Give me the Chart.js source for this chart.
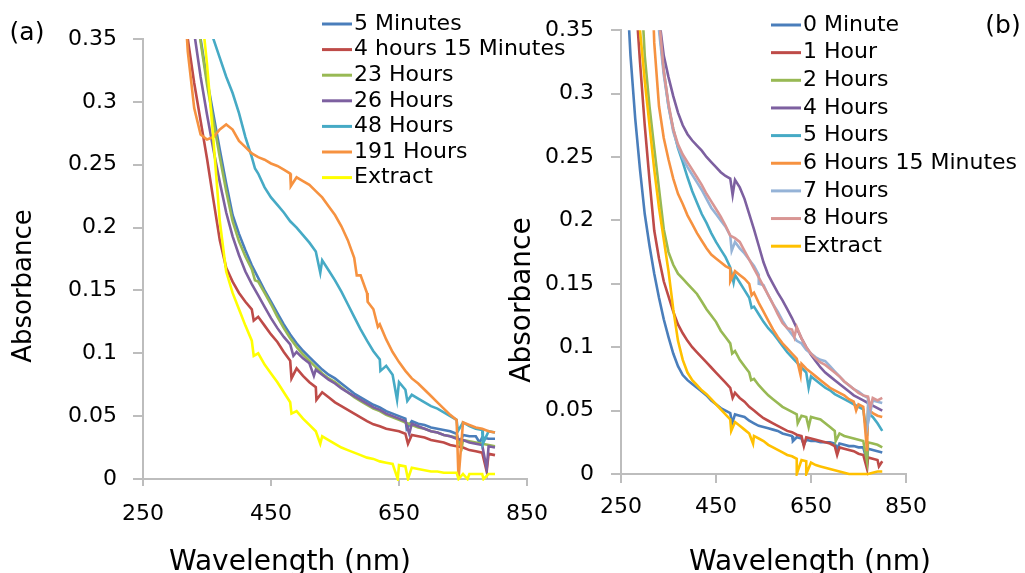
<!DOCTYPE html>
<html>
<head>
<meta charset="utf-8">
<title>Absorbance spectra</title>
<script src="https://cdn.jsdelivr.net/npm/chart.js@4.4.1/dist/chart.umd.min.js"></script>
<style>
  html, body { margin: 0; padding: 0; background: #fff; }
  #wrap { position: relative; width: 1025px; height: 573px; overflow: hidden; }
  #wrap canvas { position: absolute; left: 0; top: 0; }
</style>
</head>
<body>
<div id="wrap">
  <canvas id="chartA" width="1025" height="573"></canvas>
  <canvas id="chartB" width="1025" height="573"></canvas>
</div>
<script>
// ---- panel (a) data: wavelength grid (nm) and absorbance per series ----
const wavelengthsA = [
  300, 310, 320, 330, 340, 350, 360, 370, 380, 390,
  400, 410, 420, 430, 440, 450, 460, 470, 480, 490,
  500, 510, 520, 530, 540, 550, 560, 570, 580, 590,
  600, 610, 620, 630, 640, 650, 660, 670, 680, 690,
  700, 710, 720, 730, 740, 750, 760, 770, 780, 790,
  800
];
const labelsA = ['5 Minutes', '4 hours 15 Minutes', '23 Hours', '26 Hours', '48 Hours', '191 Hours', 'Extract'];
const colorsA = ['#4a7ebb', '#be4b48', '#98b954', '#7d60a0', '#46aac5', '#f69240', '#ffff00'];

const min5 = [
  null, 0.52, 0.45, 0.395, 0.35, 0.318, 0.29, 0.262, 0.235, 0.21,
  0.195, 0.182, 0.170, 0.160, 0.150, 0.141, 0.132, 0.123, 0.115, 0.108,
  0.102, 0.097, 0.092, 0.087, 0.083, 0.080, 0.076, 0.072, 0.068, 0.065,
  0.062, 0.059, 0.057, 0.054, 0.052, 0.050, 0.048, 0.046, 0.044, 0.043,
  0.041, 0.040, 0.039, 0.038, 0.036, 0.035, 0.034, 0.034, 0.033, 0.032,
  0.032
];
const h4m15 = [
  0.52, 0.43, 0.35, 0.315, 0.285, 0.255, 0.222, 0.19, 0.168, 0.157,
  0.148, 0.141, 0.135, 0.129, 0.122, 0.115, 0.109, 0.101, 0.094, 0.088,
  0.082, 0.077, 0.073, 0.069, 0.065, 0.061, 0.058, 0.055, 0.052, 0.049,
  0.046, 0.0435, 0.042, 0.040, 0.039, 0.038, 0.036, 0.035, 0.034, 0.033,
  0.031, 0.030, 0.029, 0.027, 0.026, 0.025, 0.023, 0.022, 0.021, 0.020,
  0.019
];
const h23 = [
  null, 0.50, 0.44, 0.39, 0.348, 0.314, 0.285, 0.256, 0.229, 0.205,
  0.189, 0.177, 0.167, 0.157, 0.148, 0.139, 0.129, 0.120, 0.112, 0.105,
  0.099, 0.094, 0.089, 0.084, 0.080, 0.077, 0.073, 0.069, 0.065, 0.062,
  0.059, 0.056, 0.054, 0.051, 0.049, 0.047, 0.045, 0.043, 0.041, 0.040,
  0.038, 0.037, 0.035, 0.034, 0.033, 0.031, 0.030, 0.029, 0.028, 0.027,
  0.026
];
const h26 = [
  0.55, 0.47, 0.40, 0.355, 0.32, 0.29, 0.262, 0.236, 0.212, 0.193,
  0.178, 0.165, 0.155, 0.146, 0.137, 0.128, 0.120, 0.113, 0.107, 0.101,
  0.096, 0.092, 0.087, 0.083, 0.079, 0.076, 0.072, 0.069, 0.066, 0.063,
  0.060, 0.057, 0.055, 0.052, 0.050, 0.048, 0.046, 0.044, 0.042, 0.040,
  0.038, 0.037, 0.035, 0.034, 0.032, 0.031, 0.029, 0.028, 0.027, 0.026,
  0.025
];
const h48 = [
  null, null, null, null, null, 0.37, 0.35, 0.335, 0.32, 0.307,
  0.291, 0.272, 0.256, 0.243, 0.232, 0.224, 0.218, 0.212, 0.205, 0.200,
  0.194, 0.188, 0.181, 0.174, 0.166, 0.158, 0.149, 0.139, 0.129, 0.119,
  0.110, 0.1016, 0.095, 0.090, 0.083, 0.077, 0.071, 0.067, 0.064, 0.061,
  0.058, 0.056, 0.053, 0.050, 0.047, 0.045, 0.042, 0.040, 0.039, 0.038,
  0.037
];
const h191 = [
  null, 0.42, 0.34, 0.295, 0.274, 0.270, 0.272, 0.278, 0.282, 0.278,
  0.269, 0.264, 0.259, 0.256, 0.254, 0.251, 0.249, 0.246, 0.243, 0.240,
  0.237, 0.234, 0.229, 0.224, 0.217, 0.210, 0.201, 0.190, 0.176, 0.162,
  0.148, 0.135, 0.123, 0.111, 0.101, 0.093, 0.086, 0.080, 0.076, 0.071,
  0.066, 0.061, 0.056, 0.051, 0.047, 0.045, 0.043, 0.041, 0.040, 0.038,
  0.037
];
const extractA = [
  null, null, null, 0.45, 0.38, 0.33, 0.27, 0.205, 0.165, 0.148,
  0.135, 0.122, 0.110, 0.100, 0.091, 0.084, 0.077, 0.069, 0.061, 0.054,
  0.048, 0.043, 0.038, 0.034, 0.031, 0.028, 0.025, 0.023, 0.021, 0.019,
  0.017, 0.016, 0.014, 0.013, 0.012, 0.011, 0.010, 0.009, 0.008, 0.007,
  0.006, 0.006, 0.005, 0.005, 0.005, 0.004, 0.004, 0.004, 0.004, 0.004,
  0.004
];
// narrow dips in the recorded spectra, [wavelength, absorbance]
const dipsA = [
  [[662, 0.040], [745, 0.028], [776, 0.029]],
  [[423, 0.126], [482, 0.080], [521, 0.063], [664, 0.028], [787, 0.006]],
  [[425, 0.158], [748, 0.025]],
  [[485, 0.098], [517, 0.082], [666, 0.036], [787, 0.008]],
  [[425, 0.247], [527, 0.164], [621, 0.086], [647, 0.063], [663, 0.062], [742, 0.038], [781, 0.028]],
  [[481, 0.233], [584, 0.162], [601, 0.141], [617, 0.121], [743, 0.0]],
  [[423, 0.098], [482, 0.052], [527, 0.028], [648, 0.0], [664, 0.0], [743, 0.0], [757, 0.0], [782, 0.0]]
];

// ---- panel (b) data ----
const wavelengthsB = [
  260, 270, 280, 290, 300, 310, 320, 330, 340, 350,
  360, 370, 380, 390, 400, 410, 420, 430, 440, 450,
  460, 470, 480, 490, 500, 510, 520, 530, 540, 550,
  560, 570, 580, 590, 600, 610, 620, 630, 640, 650,
  660, 670, 680, 690, 700, 710, 720, 730, 740, 750,
  760, 770, 780, 790, 800
];
const labelsB = ['0 Minute', '1 Hour', '2 Hours', '4 Hours', '5 Hours', '6 Hours 15 Minutes', '7 Hours', '8 Hours', 'Extract'];
const colorsB = ['#4a7ebb', '#be4b48', '#98b954', '#7d60a0', '#46aac5', '#f69240', '#95b3d7', '#d99694', '#ffc000'];

const min0 = [
  0.40, 0.33, 0.28, 0.24, 0.205, 0.18, 0.158, 0.139, 0.122, 0.108,
  0.095, 0.085, 0.078, 0.074, 0.071, 0.068, 0.065, 0.062, 0.058, 0.055,
  0.052, 0.050, 0.048, 0.047, 0.046, 0.045, 0.042, 0.040, 0.038, 0.037,
  0.036, 0.035, 0.034, 0.032, 0.031, 0.030, 0.029, 0.028, 0.027, 0.026,
  0.026, 0.025, 0.025, 0.025, 0.024, 0.024, 0.023, 0.022, 0.022, 0.021,
  0.021, 0.020, 0.019, 0.018, 0.017
];
const h1 = [
  null, 0.52, 0.38, 0.325, 0.275, 0.232, 0.192, 0.17, 0.152, 0.140,
  0.128, 0.118, 0.111, 0.105, 0.100, 0.096, 0.092, 0.088, 0.084, 0.080,
  0.076, 0.072, 0.068, 0.064, 0.060, 0.057, 0.053, 0.050, 0.047, 0.044,
  0.042, 0.040, 0.038, 0.036, 0.034, 0.033, 0.031, 0.030, 0.029, 0.028,
  0.027, 0.026, 0.025, 0.024, 0.022, 0.021, 0.020, 0.019, 0.018, 0.016,
  0.015, 0.013, 0.012, 0.011, 0.010
];
const h2 = [
  null, null, 0.55, 0.40, 0.33, 0.29, 0.257, 0.225, 0.193, 0.175,
  0.165, 0.158, 0.154, 0.150, 0.146, 0.142, 0.136, 0.130, 0.125, 0.120,
  0.113, 0.108, 0.103, 0.097, 0.090, 0.085, 0.080, 0.075, 0.070, 0.066,
  0.062, 0.059, 0.056, 0.053, 0.051, 0.049, 0.047, 0.046, 0.045, 0.045,
  0.044, 0.043, 0.040, 0.037, 0.034, 0.032, 0.030, 0.029, 0.028, 0.027,
  0.026, 0.025, 0.024, 0.023, 0.021
];
const h4 = [
  null, null, null, null, null, null, 0.42, 0.36, 0.33, 0.313,
  0.298, 0.285, 0.275, 0.268, 0.263, 0.259, 0.255, 0.250, 0.246, 0.242,
  0.238, 0.235, 0.233, 0.232, 0.226, 0.217, 0.205, 0.193, 0.180, 0.167,
  0.157, 0.150, 0.143, 0.137, 0.130, 0.123, 0.115, 0.107, 0.100, 0.094,
  0.089, 0.084, 0.080, 0.077, 0.074, 0.071, 0.068, 0.065, 0.062, 0.060,
  0.058, 0.056, 0.054, 0.052, 0.050
];
const h5 = [
  null, null, null, null, null, null, 0.40, 0.355, 0.318, 0.29,
  0.272, 0.257, 0.246, 0.234, 0.223, 0.214, 0.205, 0.198, 0.190, 0.183,
  0.177, 0.171, 0.163, 0.157, 0.151, 0.145, 0.139, 0.132, 0.126, 0.120,
  0.115, 0.111, 0.106, 0.101, 0.096, 0.092, 0.088, 0.084, 0.080, 0.077,
  0.074, 0.071, 0.068, 0.066, 0.063, 0.061, 0.059, 0.057, 0.055, 0.053,
  0.051, 0.048, 0.045, 0.040, 0.034
];
const h6m15 = [
  null, null, null, null, null, 0.45, 0.34, 0.29, 0.265, 0.248,
  0.233, 0.221, 0.213, 0.204, 0.197, 0.190, 0.184, 0.178, 0.173, 0.170,
  0.167, 0.164, 0.162, 0.160, 0.157, 0.154, 0.150, 0.143, 0.135, 0.128,
  0.121, 0.114, 0.108, 0.103, 0.099, 0.095, 0.091, 0.087, 0.083, 0.080,
  0.077, 0.074, 0.071, 0.068, 0.066, 0.064, 0.062, 0.059, 0.057, 0.055,
  0.053, 0.051, 0.048, 0.046, 0.045
];
const h7 = [
  null, null, null, null, null, null, 0.42, 0.35, 0.315, 0.29,
  0.270, 0.258, 0.249, 0.242, 0.236, 0.230, 0.224, 0.217, 0.210, 0.205,
  0.200, 0.195, 0.188, 0.183, 0.178, 0.174, 0.169, 0.164, 0.157, 0.149,
  0.141, 0.134, 0.128, 0.121, 0.115, 0.110, 0.105, 0.103, 0.098, 0.095,
  0.092, 0.090, 0.089, 0.085, 0.081, 0.077, 0.073, 0.070, 0.067, 0.065,
  0.062, 0.060, 0.058, 0.057, 0.056
];
const h8 = [
  null, null, null, null, null, null, 0.43, 0.36, 0.318, 0.292,
  0.272, 0.260, 0.252, 0.246, 0.240, 0.234, 0.228, 0.221, 0.215, 0.209,
  0.203, 0.196, 0.188, 0.186, 0.183, 0.176, 0.169, 0.162, 0.155, 0.148,
  0.141, 0.134, 0.126, 0.119, 0.115, 0.114, 0.116, 0.107, 0.100, 0.095,
  0.091, 0.088, 0.086, 0.083, 0.080, 0.077, 0.073, 0.070, 0.067, 0.064,
  0.062, 0.061, 0.060, 0.058, 0.060
];
const extractB = [
  null, null, 0.45, 0.35, 0.31, 0.275, 0.24, 0.21, 0.185, 0.16,
  0.13, 0.105, 0.09, 0.080, 0.074, 0.070, 0.066, 0.063, 0.059, 0.055,
  0.051, 0.047, 0.043, 0.041, 0.038, 0.035, 0.032, 0.030, 0.028, 0.026,
  0.023, 0.021, 0.019, 0.017, 0.015, 0.014, 0.012, 0.011, 0.010, 0.009,
  0.007, 0.006, 0.005, 0.004, 0.003, 0.002, 0.001, 0.0, 0.0, 0.0,
  0.0, 0.0, 0.001, 0.002, 0.002
];
const dipsB = [
  [[484, 0.040], [612, 0.026], [635, 0.023], [705, 0.020], [768, 0.010]],
  [[485, 0.060], [635, 0.022], [705, 0.015], [768, 0.004], [793, 0.006]],
  [[484, 0.095], [524, 0.074], [622, 0.040], [645, 0.037], [702, 0.026], [768, 0.010]],
  [[485, 0.220]],
  [[487, 0.151], [525, 0.131], [645, 0.068], [768, 0.030]],
  [[480, 0.152], [525, 0.141], [628, 0.078], [745, 0.050], [768, 0.018]],
  [[483, 0.176], [540, 0.150], [770, 0.040]],
  [[615, 0.108], [775, 0.052]],
  [[482, 0.034], [528, 0.024], [620, 0.0], [640, 0.0]]
];

const FONT = '"DejaVu Sans", sans-serif';
const AXIS_GRAY = '#bdbdbd';
Chart.defaults.font.family = FONT;
Chart.defaults.color = '#000';

function toPoints(wl, vals, dips) {
  const pts = [];
  wl.forEach((x, i) => { if (vals[i] !== null) pts.push({ x, y: vals[i] }); });
  dips.forEach(([x, y]) => pts.push({ x, y }));
  return pts.sort((a, b) => a.x - b.x);
}

function makeDatasets(wl, series, labels, colors, dips) {
  const n = series.length;
  return series.map((vals, i) => ({
    label: labels[i],
    data: toPoints(wl, vals, dips[i]),
    borderColor: colors[i],
    backgroundColor: colors[i],
    borderWidth: 2.6,
    pointRadius: 0,
    tension: 0,
    fill: false,
    clip: { left: 0, top: 0, right: 0, bottom: 2 },
    order: n - i   // later series painted on top
  }));
}

// legend, axis titles and panel tag drawn at fixed spots
const panelText = {
  id: 'panelText',
  afterDraw(chart, args, o) {
    const ctx = chart.ctx;
    ctx.save();
    ctx.fillStyle = '#000';
    ctx.textAlign = 'left';
    ctx.textBaseline = 'middle';
    ctx.font = o.legendSize + 'px ' + FONT;
    chart.data.datasets.forEach((ds, i) => {
      const y = o.legendY + i * o.legendRow;
      ctx.strokeStyle = ds.borderColor;
      ctx.lineWidth = 3;
      ctx.beginPath();
      ctx.moveTo(o.legendX, y);
      ctx.lineTo(o.legendX + 30, y);
      ctx.stroke();
      ctx.fillText(ds.label, o.legendX + 32, y);
    });

    ctx.font = o.tagSize + 'px ' + FONT;
    ctx.textAlign = 'center';
    ctx.fillText(o.tag, o.tagX, o.tagY);

    ctx.font = o.xTitleSize + 'px ' + FONT;
    ctx.textBaseline = 'alphabetic';
    ctx.fillText('Wavelength (nm)', o.xTitleX, o.xTitleY);

    ctx.translate(o.yTitleX, o.yTitleY);
    ctx.rotate(-Math.PI / 2);
    ctx.font = o.yTitleSize + 'px ' + FONT;
    ctx.textBaseline = 'middle';
    ctx.fillText('Absorbance', 0, 0);
    ctx.restore();
  }
};

function buildChart(id, datasets, p) {
  const tickFont = { size: 22, family: FONT };
  return new Chart(document.getElementById(id), {
    type: 'line',
    data: { datasets },
    plugins: [panelText],
    options: {
      responsive: false,
      animation: false,
      events: [],
      layout: { padding: { left: p.padLeft, top: p.top, right: 1025 - p.right, bottom: 0 } },
      scales: {
        x: {
          type: 'linear', min: 250, max: 850,
          ticks: { stepSize: 200, padding: p.xPad, font: tickFont, color: '#000', maxRotation: 0 },
          grid: { drawOnChartArea: false, tickLength: p.xTick, color: AXIS_GRAY, lineWidth: 2 },
          border: { color: AXIS_GRAY, width: 2 },
          afterFit: s => { s.height = 573 - p.bottom; }
        },
        y: {
          type: 'linear', min: 0, max: 0.35,
          ticks: {
            stepSize: 0.05, padding: p.yPad, font: tickFont, color: '#000',
            callback: v => String(+v.toFixed(2))
          },
          grid: { drawOnChartArea: false, tickLength: p.yTick, color: AXIS_GRAY, lineWidth: 2 },
          border: { color: AXIS_GRAY, width: 2 },
          afterFit: s => { s.width = p.left - p.padLeft; }
        }
      },
      plugins: {
        legend: { display: false },
        tooltip: { enabled: false },
        panelText: p.text
      }
    }
  });
}

buildChart('chartA',
  makeDatasets(wavelengthsA, [min5, h4m15, h23, h26, h48, h191, extractA], labelsA, colorsA, dipsA),
  {
    padLeft: 0, left: 143, right: 527, top: 39, bottom: 479,
    xTick: 7, xPad: 15, yTick: 10, yPad: 16,
    text: {
      legendX: 322, legendY: 24, legendRow: 25.6, legendSize: 22,
      tag: '(a)', tagX: 27, tagY: 33, tagSize: 25,
      xTitleX: 290, xTitleY: 570, xTitleSize: 28,
      yTitleX: 24, yTitleY: 286, yTitleSize: 26
    }
  });

buildChart('chartB',
  makeDatasets(wavelengthsB, [min0, h1, h2, h4, h5, h6m15, h7, h8, extractB], labelsB, colorsB, dipsB),
  {
    padLeft: 500, left: 621, right: 906, top: 20, bottom: 474,
    xTick: 9, xPad: 11, yTick: 10, yPad: 17,
    text: {
      legendX: 771, legendY: 25, legendRow: 27.65, legendSize: 22,
      tag: '(b)', tagX: 1003, tagY: 26, tagSize: 25,
      xTitleX: 810, xTitleY: 570, xTitleSize: 28,
      yTitleX: 523, yTitleY: 300, yTitleSize: 28
    }
  });
</script>
</body>
</html>
